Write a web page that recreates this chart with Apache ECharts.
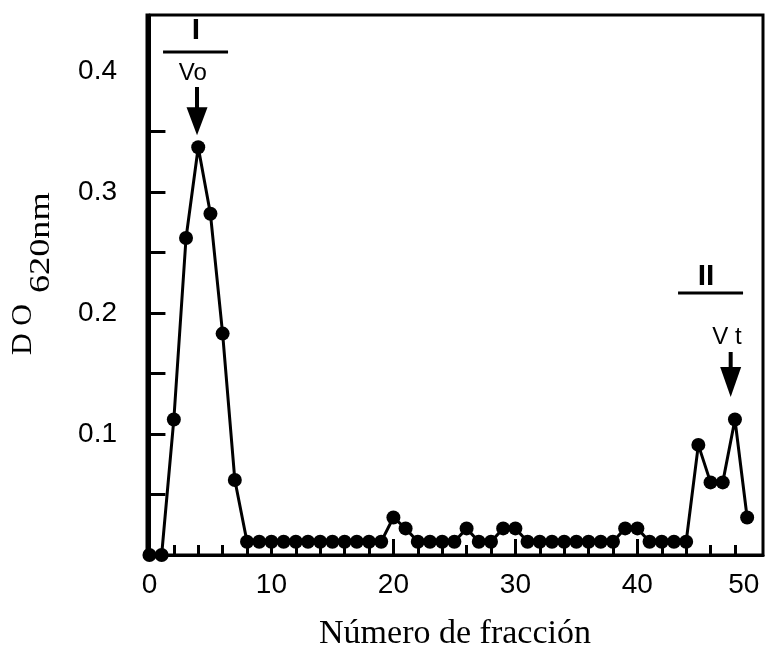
<!DOCTYPE html>
<html>
<head>
<meta charset="utf-8">
<script src="https://cdn.jsdelivr.net/npm/echarts@6/dist/echarts.min.js"></script>
<style>
  html, body { margin: 0; padding: 0; background: #ffffff; }
  #chart { width: 767px; height: 645px; }
</style>
</head>
<body>
<div id="chart"></div>
<script>
// Elution profile: optical density at 620 nm for each collected fraction
const fractions = [
  0, 1, 2, 3, 4, 5, 6, 7, 8, 9,
  10, 11, 12, 13, 14, 15, 16, 17, 18, 19,
  20, 21, 22, 23, 24, 25, 26, 27, 28, 29,
  30, 31, 32, 33, 34, 35, 36, 37, 38, 39,
  40, 41, 42, 43, 44, 45, 46, 47, 48, 49
];
const od620 = [
  0.000, 0.000, 0.112, 0.262, 0.337, 0.282, 0.183, 0.062, 0.011, 0.011,
  0.011, 0.011, 0.011, 0.011, 0.011, 0.011, 0.011, 0.011, 0.011, 0.011,
  0.031, 0.022, 0.011, 0.011, 0.011, 0.011, 0.022, 0.011, 0.011, 0.022,
  0.022, 0.011, 0.011, 0.011, 0.011, 0.011, 0.011, 0.011, 0.011, 0.022,
  0.022, 0.011, 0.011, 0.011, 0.011, 0.091, 0.060, 0.060, 0.112, 0.031
];

// Axis tick and label values
const xLabelValues = [0, 10, 20, 30, 40, 50];
const xMajorTicks = [10, 20, 30, 40];
const xMinorTicks = [2, 4, 6, 8, 12, 14, 16, 18, 22, 24, 26, 28, 32, 34, 36, 38, 42, 44, 46, 48];
const yLabelValues = [0.1, 0.2, 0.3, 0.4];
const yTickValues = [0.05, 0.1, 0.15, 0.2, 0.25, 0.3, 0.35];

// Peak markers: void volume (I / Vo) and total volume (II / Vt)
const peakNames = ['I', 'II'];
const volumeNames = ['Vo', 'V t'];

const chart = echarts.init(document.getElementById('chart'), null, { renderer: 'canvas' });

const X_MIN = -0.2, X_MAX = 50.3, Y_MIN = 0, Y_MAX = 0.4463;
const sans = 'Liberation Sans, Arial, Helvetica, sans-serif';
const serif = 'Liberation Serif, Times New Roman, serif';

const baseX = {
  type: 'value', min: X_MIN, max: X_MAX, position: 'bottom',
  splitLine: { show: false }
};

chart.setOption({
  animation: false,
  backgroundColor: '#ffffff',
  grid: {
    left: 147, top: 15, right: 4, bottom: 90,
    outerBoundsMode: 'none',
    show: true, borderColor: '#000', borderWidth: 3, containLabel: false
  },
  xAxis: [
    Object.assign({}, baseX, {
      name: 'Número de fracción',
      nameLocation: 'middle',
      nameGap: 62,
      nameTextStyle: { fontFamily: serif, fontSize: 34, color: '#000' },
      axisLine: { show: true, lineStyle: { color: '#000', width: 3 } },
      axisTick: { show: true, inside: true, length: 16, lineStyle: { color: '#000', width: 3 }, customValues: xMajorTicks },
      axisLabel: {
        show: true, customValues: xLabelValues, margin: 16,
        fontFamily: sans, fontSize: 28, color: '#000',
        alignMaxLabel: 'right'
      }
    }),
    Object.assign({}, baseX, {
      axisLine: { show: false },
      axisTick: { show: true, inside: true, length: 10, lineStyle: { color: '#000', width: 3 }, customValues: xMinorTicks },
      axisLabel: { show: false }
    })
  ],
  yAxis: {
    type: 'value', min: Y_MIN, max: Y_MAX,
    splitLine: { show: false },
    axisLine: { show: true, lineStyle: { color: '#000', width: 3 } },
    axisTick: { show: true, inside: true, length: 16, lineStyle: { color: '#000', width: 3 }, customValues: yTickValues },
    axisLabel: {
      customValues: yLabelValues, margin: 30,
      fontFamily: sans, fontSize: 28, color: '#000',
      formatter: v => v.toFixed(1)
    }
  },
  series: [{
    type: 'line',
    xAxisIndex: 0,
    data: fractions.map((f, i) => [f, od620[i]]),
    symbol: 'circle',
    symbolSize: 14,
    clip: false,
    lineStyle: { color: '#000', width: 3 },
    itemStyle: { color: '#000' },
    z: 5
  }]
});

// Annotation layout in data units (fraction, OD)
const markerLayout = [
  { nameX: 3.82, nameY: 0.433, barX: 3.78, barY: 0.4157, volX: 3.55, volY: 0.398,
    arrowX: 3.9, tailY: 0.3868, headY: 0.370, tipY: 0.347 },
  { nameX: 45.63, nameY: 0.2298, barX: 46.0, barY: 0.2165, volX: 47.35, volY: 0.180,
    arrowX: 47.65, tailY: 0.1678, headY: 0.1554, tipY: 0.1306 }
];

const px = (x, y) => chart.convertToPixel({ gridIndex: 0 }, [x, y]);
const graphics = [];
markerLayout.forEach((m, i) => {
  const n = px(m.nameX, m.nameY);
  const b = px(m.barX, m.barY);
  const v = px(m.volX, m.volY);
  const t = px(m.arrowX, m.tailY);
  const h = px(m.arrowX, m.headY);
  const tip = px(m.arrowX, m.tipY);
  graphics.push(
    { type: 'text', x: n[0], y: n[1], z: 10,
      style: { text: peakNames[i], fontFamily: sans, fontSize: 30, fontWeight: 'bold', fill: '#000', align: 'center', verticalAlign: 'middle' } },
    { type: 'line', z: 10, shape: { x1: b[0] - 32.5, y1: b[1], x2: b[0] + 32.5, y2: b[1] },
      style: { stroke: '#000', lineWidth: 3 } },
    { type: 'text', x: v[0], y: v[1], z: 10,
      style: { text: volumeNames[i], fontFamily: sans, fontSize: 24, fill: '#000', align: 'center', verticalAlign: 'middle' } },
    { type: 'line', z: 10, shape: { x1: t[0], y1: t[1], x2: h[0], y2: h[1] + 2 },
      style: { stroke: '#000', lineWidth: 4 } },
    { type: 'polygon', z: 10, shape: { points: [[h[0] - 10.5, h[1]], [h[0] + 10.5, h[1]], [tip[0], tip[1]]] },
      style: { fill: '#000' } }
  );
});

// Y-axis title: "D O" with subscript "620nm", reading bottom to top
graphics.push({
  type: 'group', x: 23, y: 355, rotation: Math.PI / 2, z: 10,
  children: [
    { type: 'text', x: 0, y: 0, style: { text: 'D O', fontFamily: serif, fontSize: 30, fill: '#000', align: 'left', verticalAlign: 'middle' } },
    { type: 'text', x: 62, y: 18, scaleX: 1.25, style: { text: '620nm', fontFamily: serif, fontSize: 29, fill: '#000', align: 'left', verticalAlign: 'middle' } }
  ]
});

chart.setOption({ graphic: graphics });
</script>
</body>
</html>
